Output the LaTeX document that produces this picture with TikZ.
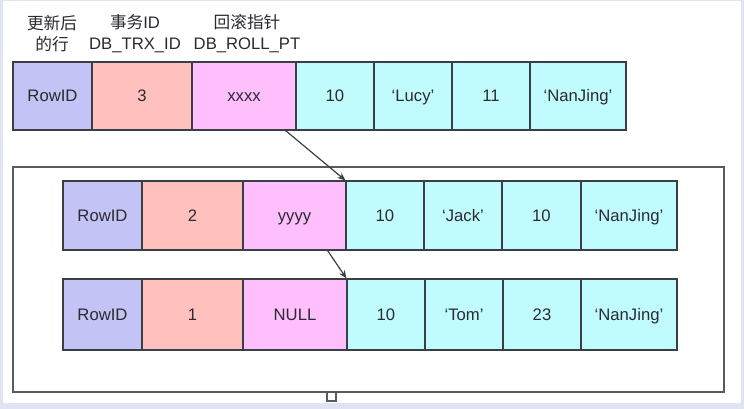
\documentclass[tikz,border=0pt]{standalone}
\usepackage{fontspec}
\setmainfont{Liberation Sans}
\newfontfamily\cjk{Noto Sans CJK SC}
\usetikzlibrary{arrows.meta,calc}
\definecolor{pagebg}{HTML}{DFE3F2}
\definecolor{cid}{HTML}{C3C3F6}
\definecolor{ctrx}{HTML}{FFC0BE}
\definecolor{croll}{HTML}{FFBFFC}
\definecolor{cdata}{HTML}{C0FCFD}
\definecolor{edge}{HTML}{3A3F45}
\definecolor{txt}{HTML}{2A2A30}
\tikzset{
  cellbox/.style={draw=edge, line width=0.9pt, inner sep=0pt, text=txt,
    text height=9pt, text depth=0pt,
    font=\fontsize{12.5}{15}\selectfont},
  headtext/.style={inner sep=0pt, text=txt, align=center,
    font=\fontsize{12.5}{15.75}\selectfont},
  link/.style={draw=edge, line width=0.9pt, -{Stealth[length=6pt,width=5pt]}},
  framebox/.style={draw=edge!85, line width=1.1pt}
}
% \cellat{name}{x1}{x2}{y1}{y2}{fill}{text}
\newcommand{\cellat}[7]{%
  \node[cellbox, fill=#6, minimum width={(#3-#2)*0.75pt}, minimum height={(#5-#4)*0.75pt}]
    (#1) at ({(#2+#3)/2},{(#4+#5)/2}) {#7};}
\begin{document}
\begin{tikzpicture}[x=0.75pt,y=-0.75pt]
\useasboundingbox (0,0) rectangle (744,409);
\fill[pagebg] (0,0) rectangle (744,409);
\fill[white] (3,1) rectangle (741,403);

% headers
\node[headtext] (h1) at (52,34) {{\cjk 更新后}\\{\cjk 的行}};
\node[headtext] (h2) at (135,34) {{\cjk 事务}ID\\DB\_TRX\_ID};
\node[headtext] (h3) at (247,34) {{\cjk 回滚指针}\\DB\_ROLL\_PT};

% frame for old versions
\draw[framebox] (13,167) rectangle (724,392);
\draw[framebox, line width=0.9pt] (327,392) rectangle (336,401);

% top row (current)
\cellat{t1}{13}{92}{62}{130}{cid}{RowID}
\cellat{t2}{92}{192}{62}{130}{ctrx}{3}
\cellat{t3}{192}{296}{62}{130}{croll}{xxxx}
\cellat{t4}{296}{374}{62}{130}{cdata}{10}
\cellat{t5}{374}{452}{62}{130}{cdata}{`Lucy'}
\cellat{t6}{452}{530}{62}{130}{cdata}{11}
\cellat{t7}{530}{626}{62}{130}{cdata}{`NanJing'}

% middle row
\cellat{m1}{63}{142}{181}{250}{cid}{RowID}
\cellat{m2}{142}{243}{181}{250}{ctrx}{2}
\cellat{m3}{243}{346}{181}{250}{croll}{yyyy}
\cellat{m4}{346}{424}{181}{250}{cdata}{10}
\cellat{m5}{424}{502}{181}{250}{cdata}{`Jack'}
\cellat{m6}{502}{581}{181}{250}{cdata}{10}
\cellat{m7}{581}{677}{181}{250}{cdata}{`NanJing'}

% bottom row
\cellat{b1}{63}{142}{279}{350}{cid}{RowID}
\cellat{b2}{142}{243}{279}{350}{ctrx}{1}
\cellat{b3}{243}{347}{279}{350}{croll}{NULL}
\cellat{b4}{347}{425}{279}{350}{cdata}{10}
\cellat{b5}{425}{503}{279}{350}{cdata}{`Tom'}
\cellat{b6}{503}{581}{279}{350}{cdata}{23}
\cellat{b7}{581}{677}{279}{350}{cdata}{`NanJing'}

% roll pointers
\draw[link] ([xshift=-8.25pt]t3.south east) -- (m4.north west);
\draw[link] ([xshift=-14.25pt]m3.south east) -- (b4.north west);
\end{tikzpicture}
\end{document}
